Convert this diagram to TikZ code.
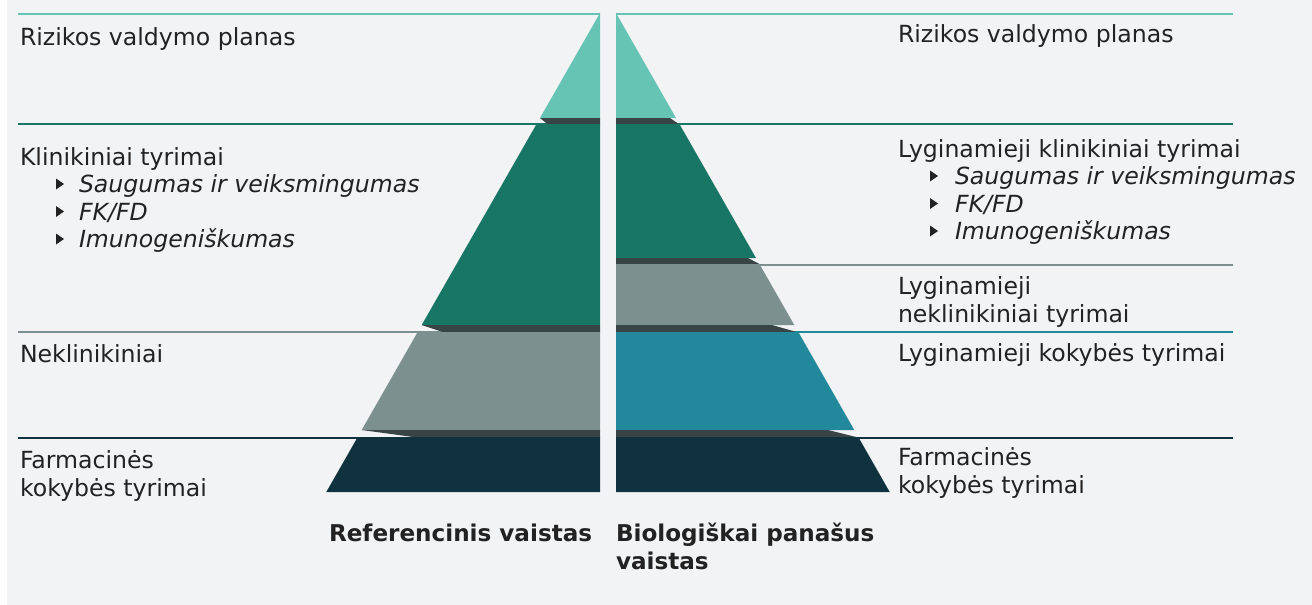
\documentclass[tikz,border=0pt]{standalone}
\usepackage{fontspec}
\setmainfont{DejaVu Sans}
\definecolor{bg}{HTML}{F2F3F5}
\definecolor{cteal}{HTML}{65C4B4}
\definecolor{cgreen}{HTML}{177764}
\definecolor{cgray}{HTML}{7C9090}
\definecolor{cblue}{HTML}{22889B}
\definecolor{cnavy}{HTML}{10323F}
\definecolor{cshadow}{HTML}{394447}
\definecolor{txt}{HTML}{222222}
\tikzset{
  lbl/.style={inner sep=0pt, outer sep=0pt, anchor=base west, text=txt, font=\fontsize{23.6}{27}\selectfont},
  itl/.style={lbl, font=\fontsize{23.6}{27}\selectfont\itshape},
  bld/.style={lbl, font=\fontsize{23.1}{27}\selectfont\bfseries},
  rule/.style={line width=2pt},
  bul/.style={fill=txt},
}
\begin{document}
\begin{tikzpicture}[x=1pt,y=-1pt]
\useasboundingbox (0,0) rectangle (1312,605);
\fill[bg] (7,0) rectangle (1312,605);
% horizontal rules
\draw[rule,cteal] (18,13.5) -- (600,13.5);
\draw[rule,cteal] (616,13.5) -- (1233,13.5);
\draw[rule,cgreen] (18,124) -- (600,124);
\draw[rule,cgreen] (616,124) -- (1233,124);
\draw[rule,cgray] (18,332) -- (600,332);
\draw[rule,cgray] (616,264.5) -- (1233,264.5);
\draw[rule,cblue] (616,332) -- (1233,332);
\draw[rule,cnavy] (18,437.5) -- (600,437.5);
\draw[rule,cnavy] (616,437.5) -- (1233,437.5);
% left pyramid
\fill[cteal] (600,13) -- (540,118) -- (600,118) -- cycle;
\fill[cshadow] (540,118) -- (600,118) -- (600,124.5) -- (548,124.5) -- cycle;
\fill[cgreen] (536.6,124) -- (600,124) -- (600,325) -- (421.7,325) -- cycle;
\fill[cshadow] (421.7,325) -- (600,325) -- (600,332.5) -- (444,332.5) -- cycle;
\fill[cgray] (417.7,332) -- (600,332) -- (600,430) -- (361.7,430) -- cycle;
\fill[cshadow] (361.7,430) -- (600,430) -- (600,437.5) -- (416.7,437.5) -- cycle;
\fill[cnavy] (357.7,437) -- (600,437) -- (600,492) -- (326.3,492) -- cycle;
% right pyramid
\fill[cteal] (616,13) -- (676,118) -- (616,118) -- cycle;
\fill[cshadow] (616,118) -- (670,118) -- (679.4,124.5) -- (616,124.5) -- cycle;
\fill[cgreen] (616,124) -- (679.4,124) -- (756,258) -- (616,258) -- cycle;
\fill[cshadow] (616,258) -- (748,258) -- (760.4,264.5) -- (616,264.5) -- cycle;
\fill[cgray] (616,264) -- (759.4,264) -- (794.3,325) -- (616,325) -- cycle;
\fill[cshadow] (616,325) -- (772,325) -- (798.3,332.5) -- (616,332.5) -- cycle;
\fill[cblue] (616,332) -- (798.3,332) -- (854.3,430) -- (616,430) -- cycle;
\fill[cshadow] (616,430) -- (828,430) -- (858.3,437.5) -- (616,437.5) -- cycle;
\fill[cnavy] (616,437) -- (858.3,437) -- (889.7,492) -- (616,492) -- cycle;
% left texts
\node[lbl] (l1) at (20,45) {Rizikos valdymo planas};
\node[lbl] (l2) at (20,165) {Klinikiniai tyrimai};
\node[itl] (l2a) at (79,192.5) {Saugumas ir veiksmingumas};
\node[itl] (l2b) at (79,220) {FK/FD};
\node[itl] (l2c) at (79,247.5) {Imunogeniškumas};
\node[lbl] (l3) at (20,362) {Neklinikiniai};
\node[lbl] (l4) at (20,468) {Farmacinės};
\node[lbl] (l4b) at (20,496) {kokybės tyrimai};
\foreach \yy in {192.5,220,247.5} \fill[bul] (56,\yy-14) -- (64,\yy-8.5) -- (56,\yy-3) -- cycle;
% right texts
\node[lbl] (r1) at (898,42) {Rizikos valdymo planas};
\node[lbl] (r2) at (898,157) {Lyginamieji klinikiniai tyrimai};
\node[itl] (r2a) at (955,184.5) {Saugumas ir veiksmingumas};
\node[itl] (r2b) at (955,212) {FK/FD};
\node[itl] (r2c) at (955,239.5) {Imunogeniškumas};
\node[lbl] (r3) at (898,294.5) {Lyginamieji};
\node[lbl] (r3b) at (898,322) {neklinikiniai tyrimai};
\node[lbl] (r4) at (898,361) {Lyginamieji kokybės tyrimai};
\node[lbl] (r5) at (898,465) {Farmacinės};
\node[lbl] (r5b) at (898,493) {kokybės tyrimai};
\foreach \yy in {184.5,212,239.5} \fill[bul] (930,\yy-14) -- (938,\yy-8.5) -- (930,\yy-3) -- cycle;
% bottom titles
\node[bld] (t1) at (329,541) {Referencinis vaistas};
\node[bld] (t2) at (616,541) {Biologiškai panašus};
\node[bld] (t2b) at (616,569) {vaistas};
\end{tikzpicture}
\end{document}
